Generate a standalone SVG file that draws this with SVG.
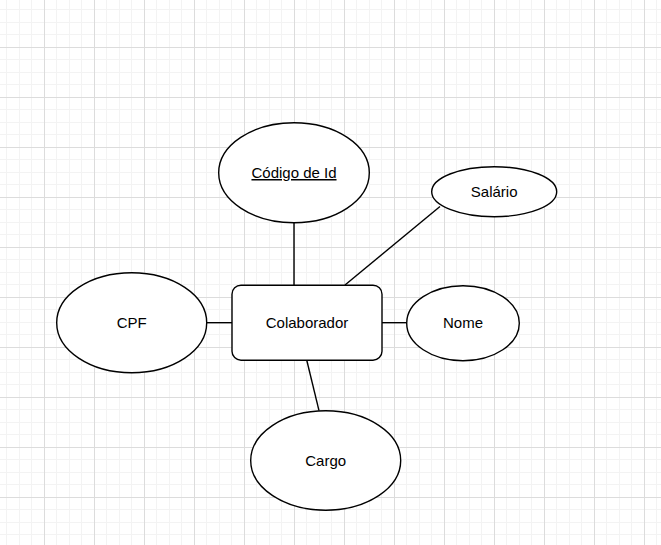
<svg xmlns="http://www.w3.org/2000/svg" width="661" height="545" viewBox="0 0 661 545">
<style>
.shape{fill:#ffffff;stroke:#000000;stroke-width:1.4}
.edge{stroke:#000000;stroke-width:1.4;fill:none}
.lbl{font-family:"Liberation Sans",Arial,sans-serif;font-size:15px;fill:#000000;text-anchor:middle}
</style>
<defs>
<pattern id="grid" patternUnits="userSpaceOnUse" x="44" y="47" width="50" height="50">
<path d="M12.5 0V50M25.5 0V50M37.5 0V50M0 12.5H50M0 25.5H50M0 37.5H50" stroke="#f3f3f3" stroke-width="1" fill="none"/>
<path d="M0.5 0V50M0 0.5H50" stroke="#dcdcdc" stroke-width="1" fill="none"/>
</pattern>
</defs>
<rect width="661" height="545" fill="#ffffff"/>
<rect width="661" height="545" fill="url(#grid)"/>
<g id="connectors">
<line class="edge" x1="294" y1="223" x2="294" y2="285"/>
<line class="edge" x1="440" y1="206.5" x2="345" y2="285"/>
<line class="edge" x1="207" y1="322.7" x2="232" y2="322.7"/>
<line class="edge" x1="382" y1="322.7" x2="407" y2="322.7"/>
<line class="edge" x1="306.7" y1="360" x2="319" y2="410.7"/>
</g>
<g id="colaborador">
<rect class="shape" x="232" y="285.2" width="150" height="75" rx="9" ry="9"/>
<text class="lbl" x="307" y="328">Colaborador</text>
</g>
<g id="codigo">
<ellipse class="shape" cx="294" cy="172.7" rx="75.3" ry="50"/>
<text class="lbl" x="294" y="178" text-decoration="underline">Código de Id</text>
</g>
<g id="salario">
<ellipse class="shape" cx="494.2" cy="191.7" rx="62.5" ry="25"/>
<text class="lbl" x="494.2" y="197">Salário</text>
</g>
<g id="cpf">
<ellipse class="shape" cx="131.7" cy="322.7" rx="75" ry="50"/>
<text class="lbl" x="131.7" y="328">CPF</text>
</g>
<g id="nome">
<ellipse class="shape" cx="463" cy="323.2" rx="56.3" ry="37.5"/>
<text class="lbl" x="463" y="328">Nome</text>
</g>
<g id="cargo">
<ellipse class="shape" cx="325.7" cy="460.5" rx="75" ry="49.7"/>
<text class="lbl" x="325.7" y="466">Cargo</text>
</g>
</svg>
